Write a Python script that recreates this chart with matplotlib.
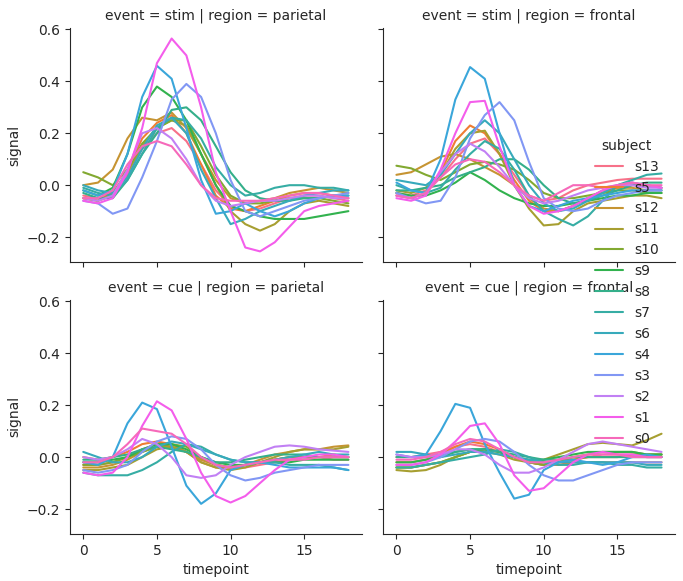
import numpy as np
import matplotlib
matplotlib.use('Agg')
import matplotlib.pyplot as plt
import seaborn as sns

sns.set_style('ticks')

timepoints = list(range(19))
subjects = ['s13', 's5', 's12', 's11', 's10', 's9', 's8', 's7', 's6', 's4', 's3', 's2', 's1', 's0']

# stim / parietal
stim_parietal = {
    's13': [-0.04, -0.05, -0.03, 0.04, 0.14, 0.2, 0.22, 0.17, 0.08, -0.02, -0.08, -0.1, -0.09, -0.07, -0.05, -0.04, -0.04, -0.05, -0.06],
    's5': [-0.05, -0.06, -0.04, 0.06, 0.18, 0.24, 0.27, 0.2, 0.08, -0.04, -0.09, -0.1, -0.08, -0.06, -0.04, -0.03, -0.03, -0.04, -0.05],
    's12': [0.0, 0.01, 0.06, 0.18, 0.26, 0.25, 0.28, 0.22, 0.12, 0.02, -0.05, -0.07, -0.06, -0.05, -0.03, -0.02, -0.01, -0.02, -0.03],
    's11': [-0.05, -0.06, -0.03, 0.05, 0.15, 0.22, 0.25, 0.23, 0.12, 0.0, -0.1, -0.15, -0.175, -0.15, -0.1, -0.07, -0.06, -0.07, -0.08],
    's10': [0.05, 0.03, 0.0, 0.06, 0.16, 0.22, 0.25, 0.25, 0.15, 0.04, -0.04, -0.07, -0.07, -0.06, -0.05, -0.05, -0.05, -0.06, -0.07],
    's9': [-0.02, -0.04, -0.01, 0.12, 0.3, 0.38, 0.34, 0.25, 0.12, 0.0, -0.08, -0.1, -0.12, -0.13, -0.13, -0.13, -0.12, -0.11, -0.1],
    's8': [-0.03, -0.05, -0.05, 0.02, 0.12, 0.2, 0.29, 0.3, 0.25, 0.15, 0.05, -0.02, -0.05, -0.06, -0.06, -0.05, -0.05, -0.04, -0.04],
    's7': [-0.01, -0.03, -0.04, 0.02, 0.12, 0.22, 0.26, 0.25, 0.18, 0.07, 0.0, -0.04, -0.03, -0.01, 0.0, 0.0, -0.01, -0.01, -0.02],
    's6': [0.0, -0.02, -0.03, 0.03, 0.14, 0.23, 0.26, 0.2, 0.06, -0.05, -0.15, -0.13, -0.1, -0.08, -0.06, -0.04, -0.03, -0.02, -0.02],
    's4': [-0.02, -0.04, -0.02, 0.12, 0.34, 0.46, 0.41, 0.22, 0.02, -0.11, -0.1, -0.07, -0.1, -0.12, -0.1, -0.07, -0.05, -0.04, -0.04],
    's3': [-0.06, -0.07, -0.11, -0.09, 0.03, 0.17, 0.33, 0.39, 0.34, 0.2, 0.02, -0.1, -0.12, -0.1, -0.08, -0.06, -0.05, -0.04, -0.03],
    's2': [-0.05, -0.06, -0.04, 0.06, 0.2, 0.22, 0.18, 0.1, 0.0, -0.06, -0.08, -0.07, -0.06, -0.06, -0.05, -0.04, -0.04, -0.05, -0.05],
    's1': [-0.06, -0.07, -0.05, 0.05, 0.22, 0.47, 0.565, 0.5, 0.3, 0.05, -0.1, -0.24, -0.255, -0.22, -0.16, -0.1, -0.08, -0.07, -0.06],
    's0': [-0.05, -0.05, -0.02, 0.08, 0.15, 0.17, 0.15, 0.08, 0.0, -0.05, -0.06, -0.06, -0.06, -0.05, -0.04, -0.03, -0.03, -0.04, -0.05],
}

# stim / frontal
stim_frontal = {
    's13': [-0.03, -0.04, -0.02, 0.03, 0.1, 0.16, 0.18, 0.12, 0.04, -0.04, -0.06, -0.05, -0.02, 0.0, 0.01, 0.02, 0.025, 0.025, 0.025],
    's5': [-0.04, -0.05, -0.03, 0.05, 0.17, 0.23, 0.2, 0.12, 0.02, -0.06, -0.1, -0.1, -0.08, -0.05, -0.03, -0.01, 0.0, 0.0, -0.01],
    's12': [0.04, 0.05, 0.08, 0.11, 0.12, 0.1, 0.07, 0.04, 0.0, -0.05, -0.09, -0.1, -0.08, -0.05, -0.02, -0.01, -0.01, -0.02, -0.02],
    's11': [-0.02, -0.03, -0.01, 0.04, 0.14, 0.2, 0.21, 0.12, 0.0, -0.09, -0.155, -0.15, -0.1, -0.07, -0.06, -0.05, -0.04, -0.04, -0.05],
    's10': [0.075, 0.065, 0.04, 0.02, 0.05, 0.08, 0.09, 0.08, 0.06, 0.02, -0.03, -0.05, -0.05, -0.04, -0.03, -0.02, -0.02, -0.03, -0.03],
    's9': [-0.03, -0.04, -0.04, -0.02, 0.01, 0.05, 0.02, -0.02, -0.05, -0.07, -0.08, -0.08, -0.07, -0.06, -0.05, -0.04, -0.04, -0.03, -0.03],
    's8': [-0.02, -0.02, -0.01, 0.0, 0.03, 0.05, 0.07, 0.1, 0.1, 0.06, 0.0, -0.05, -0.07, -0.06, -0.04, -0.02, 0.0, 0.01, 0.01],
    's7': [0.0, -0.02, -0.03, -0.01, 0.06, 0.12, 0.17, 0.14, 0.06, -0.04, -0.1, -0.13, -0.155, -0.12, -0.06, 0.0, 0.02, 0.04, 0.045],
    's6': [0.02, 0.01, 0.0, 0.04, 0.12, 0.2, 0.25, 0.2, 0.1, 0.0, -0.07, -0.1, -0.09, -0.06, -0.03, 0.0, 0.01, 0.0, -0.01],
    's4': [0.01, -0.02, -0.03, 0.1, 0.33, 0.455, 0.41, 0.2, 0.0, -0.08, -0.1, -0.08, -0.06, -0.05, -0.04, -0.03, -0.02, -0.02, -0.02],
    's3': [-0.03, -0.05, -0.07, -0.06, 0.03, 0.18, 0.27, 0.32, 0.25, 0.09, -0.05, -0.09, -0.1, -0.09, -0.06, -0.04, -0.03, -0.02, -0.02],
    's2': [-0.04, -0.05, -0.03, 0.05, 0.12, 0.16, 0.13, 0.07, 0.0, -0.05, -0.07, -0.06, -0.04, -0.02, -0.01, 0.0, 0.0, -0.01, -0.01],
    's1': [-0.05, -0.06, -0.04, 0.06, 0.2, 0.32, 0.325, 0.15, 0.0, -0.08, -0.11, -0.1, -0.08, -0.05, -0.02, 0.0, 0.01, 0.0, -0.01],
    's0': [-0.04, -0.05, -0.03, 0.03, 0.08, 0.1, 0.09, 0.05, 0.0, -0.04, -0.06, -0.03, 0.0, 0.0, -0.01, 0.0, 0.01, 0.0, 0.0],
}

# cue / parietal
cue_parietal = {
    's13': [-0.03, -0.03, -0.02, 0.0, 0.03, 0.05, 0.04, 0.02, -0.01, -0.03, -0.04, -0.04, -0.03, -0.02, -0.01, 0.0, 0.0, -0.01, -0.01],
    's5': [0.0, -0.01, 0.0, 0.02, 0.05, 0.06, 0.05, 0.02, -0.02, -0.04, -0.04, -0.03, -0.02, -0.01, 0.0, 0.0, 0.0, 0.01, 0.0],
    's12': [-0.04, -0.04, -0.03, -0.01, 0.02, 0.04, 0.04, 0.02, -0.01, -0.03, -0.04, -0.03, -0.01, 0.01, 0.02, 0.03, 0.03, 0.04, 0.045],
    's11': [-0.05, -0.05, -0.04, -0.03, 0.0, 0.03, 0.04, 0.02, -0.02, -0.04, -0.05, -0.04, -0.02, 0.0, 0.02, 0.03, 0.03, 0.03, 0.04],
    's10': [-0.03, -0.03, -0.02, 0.0, 0.02, 0.04, 0.05, 0.04, 0.0, -0.03, -0.04, -0.03, -0.02, -0.01, 0.0, 0.0, 0.0, 0.0, 0.0],
    's9': [-0.02, -0.02, -0.01, 0.0, 0.03, 0.05, 0.05, 0.03, 0.0, -0.02, -0.03, -0.03, -0.02, -0.02, -0.02, -0.01, -0.01, -0.01, -0.01],
    's8': [-0.01, -0.01, 0.0, 0.01, 0.03, 0.04, 0.03, 0.02, 0.0, -0.02, -0.02, -0.01, 0.0, 0.01, 0.01, 0.01, 0.0, 0.0, 0.0],
    's7': [-0.06, -0.07, -0.07, -0.07, -0.05, -0.02, 0.02, 0.05, 0.04, 0.01, -0.01, -0.02, -0.02, -0.02, -0.03, -0.03, -0.03, -0.04, -0.05],
    's6': [0.02, 0.0, -0.02, -0.02, 0.0, 0.04, 0.06, 0.05, 0.03, 0.01, -0.01, -0.02, -0.02, -0.01, 0.0, 0.01, 0.02, 0.01, 0.01],
    's4': [-0.02, -0.03, 0.0, 0.13, 0.21, 0.185, 0.04, -0.11, -0.18, -0.14, -0.05, -0.03, -0.02, -0.03, -0.04, -0.04, -0.04, -0.04, -0.05],
    's3': [-0.05, -0.06, -0.05, -0.03, 0.02, 0.06, 0.08, 0.07, 0.03, -0.03, -0.07, -0.09, -0.08, -0.06, -0.05, -0.04, -0.03, -0.03, -0.03],
    's2': [0.0, -0.01, 0.0, 0.03, 0.07, 0.05, 0.0, -0.07, -0.08, -0.07, -0.03, 0.0, 0.02, 0.04, 0.045, 0.04, 0.03, 0.025, 0.02],
    's1': [-0.06, -0.07, -0.06, 0.0, 0.12, 0.215, 0.18, 0.07, -0.06, -0.15, -0.175, -0.15, -0.1, -0.05, -0.01, 0.0, 0.01, 0.01, 0.0],
    's0': [-0.02, -0.02, 0.0, 0.05, 0.11, 0.1, 0.09, 0.05, 0.0, -0.03, -0.04, -0.03, -0.02, -0.01, -0.01, -0.01, 0.0, 0.0, 0.0],
}

# cue / frontal
cue_frontal = {
    's13': [0.0, 0.0, 0.01, 0.02, 0.04, 0.05, 0.04, 0.02, 0.0, -0.02, -0.03, -0.02, -0.01, 0.0, 0.01, 0.01, 0.01, 0.0, 0.0],
    's5': [-0.02, -0.02, -0.01, 0.01, 0.04, 0.06, 0.05, 0.03, 0.0, -0.02, -0.03, -0.03, -0.02, -0.02, -0.02, -0.02, -0.02, -0.02, -0.02],
    's12': [-0.04, -0.04, -0.03, -0.02, 0.0, 0.02, 0.03, 0.02, 0.0, -0.02, -0.03, -0.02, -0.01, 0.0, 0.0, 0.0, 0.01, 0.01, 0.01],
    's11': [-0.05, -0.055, -0.05, -0.03, 0.0, 0.02, 0.02, 0.01, -0.01, -0.02, -0.01, 0.01, 0.03, 0.05, 0.055, 0.05, 0.045, 0.065, 0.09],
    's10': [-0.04, -0.04, -0.03, -0.02, 0.0, 0.02, 0.03, 0.02, 0.0, -0.02, -0.03, -0.02, 0.0, 0.01, 0.02, 0.02, 0.02, 0.01, 0.01],
    's9': [-0.02, -0.02, -0.01, 0.0, 0.02, 0.03, 0.03, 0.02, 0.0, -0.01, -0.01, 0.0, 0.01, 0.02, 0.02, 0.02, 0.02, 0.01, 0.01],
    's8': [0.0, 0.0, 0.0, 0.01, 0.02, 0.03, 0.03, 0.02, 0.01, 0.0, -0.01, -0.01, 0.0, 0.0, 0.0, 0.0, 0.0, 0.0, 0.0],
    's7': [-0.04, -0.04, -0.03, -0.02, -0.01, 0.0, 0.01, 0.03, 0.02, 0.0, -0.02, -0.03, -0.03, -0.02, -0.02, -0.03, -0.03, -0.04, -0.04],
    's6': [0.02, 0.02, 0.01, 0.0, 0.01, 0.02, 0.02, 0.01, 0.0, -0.01, -0.02, -0.02, -0.02, -0.02, -0.02, -0.02, -0.02, -0.03, -0.03],
    's4': [0.01, 0.0, 0.01, 0.1, 0.205, 0.19, 0.05, -0.06, -0.16, -0.145, -0.05, -0.02, -0.01, -0.02, -0.03, -0.02, 0.0, 0.01, 0.0],
    's3': [-0.03, -0.03, -0.02, 0.0, 0.03, 0.06, 0.07, 0.06, 0.02, -0.03, -0.07, -0.09, -0.09, -0.07, -0.05, -0.03, -0.02, -0.02, -0.02],
    's2': [0.01, 0.0, 0.0, 0.01, 0.03, 0.03, 0.01, -0.03, -0.06, -0.06, -0.04, -0.01, 0.02, 0.05, 0.06, 0.05, 0.04, 0.03, 0.02],
    's1': [-0.03, -0.03, -0.02, 0.01, 0.06, 0.12, 0.13, 0.05, -0.07, -0.13, -0.12, -0.07, -0.02, 0.01, 0.02, 0.01, 0.01, 0.0, 0.0],
    's0': [-0.01, -0.01, 0.0, 0.02, 0.05, 0.07, 0.06, 0.03, 0.0, -0.02, -0.02, -0.01, 0.0, 0.01, 0.01, 0.01, 0.0, 0.0, 0.0],
}

panels = [
    ('stim', 'parietal', stim_parietal),
    ('stim', 'frontal', stim_frontal),
    ('cue', 'parietal', cue_parietal),
    ('cue', 'frontal', cue_frontal),
]

colors = sns.color_palette('husl', len(subjects))

fig = plt.figure(figsize=(6.83, 5.81), dpi=100)
lefts = [0.1025, 0.561]
bottoms = [0.549, 0.081]
w, h = 0.427, 0.403

axes = []
for i, (event, region, data) in enumerate(panels):
    r, c = divmod(i, 2)
    ax = fig.add_axes([lefts[c], bottoms[r], w, h])
    axes.append(ax)
    for s, col in zip(subjects, colors):
        ax.plot(timepoints, data[s], color=col, lw=1.5, label=s)
    ax.set_title(f'event = {event} | region = {region}', fontsize=10)
    ax.set_xlim(-0.9, 18.9)
    ax.set_ylim(-0.296, 0.606)
    ax.set_xticks([0, 5, 10, 15])
    ax.set_yticks([-0.2, 0.0, 0.2, 0.4, 0.6])
    if r == 0:
        ax.tick_params(labelbottom=False)
    else:
        ax.set_xlabel('timepoint')
    if c == 1:
        ax.tick_params(labelleft=False)
    else:
        ax.set_ylabel('signal')
    sns.despine(ax=ax)

handles, labels = axes[0].get_legend_handles_labels()
fig.legend(handles, labels, title='subject', frameon=False, loc='center left',
           bbox_to_anchor=(0.853, 0.497))

fig.savefig('out.png', dpi=100)
